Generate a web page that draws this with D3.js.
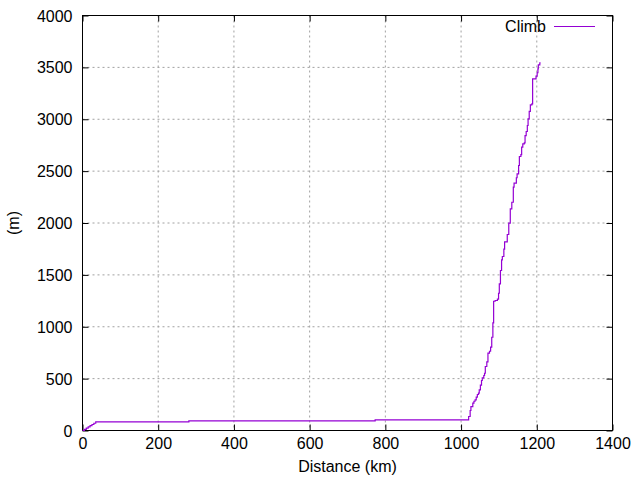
<!DOCTYPE html>
<html>
<head>
<meta charset="utf-8">
<script src="https://cdn.jsdelivr.net/npm/d3@7"></script>
<style>
  body { margin: 0; background: #fff; }
  text { font-family: "Liberation Sans", Arial, sans-serif; }
</style>
</head>
<body>
<script>
// distance along route (km) and cumulative climb (m)
const distance = [0, 5, 10, 15, 20, 25, 30, 35, 281, 773,
  1020, 1024, 1026, 1031, 1034, 1037, 1040, 1043, 1046, 1048,
  1051, 1054, 1056, 1060, 1062, 1064, 1068, 1071, 1075, 1078,
  1081, 1084, 1086, 1090, 1096, 1099, 1101, 1104, 1107, 1109,
  1113, 1115, 1122, 1126, 1130, 1134, 1138, 1140, 1146, 1148,
  1152, 1154, 1158, 1160, 1163, 1167, 1169, 1172, 1175, 1177,
  1180, 1183, 1187, 1189, 1198, 1201, 1203, 1204, 1208, 1210];
const climb = [0, 10, 22, 35, 47, 58, 70, 84, 93, 103,
  135, 193, 231, 263, 282, 296, 321, 347, 360, 392,
  437, 482, 508, 530, 552, 617, 662, 745, 764, 803,
  899, 1038, 1246, 1253, 1266, 1323, 1414, 1542, 1645, 1677,
  1748, 1819, 1889, 1998, 2137, 2200, 2345, 2384, 2436, 2474,
  2554, 2641, 2660, 2731, 2763, 2773, 2843, 2882, 2940, 3004,
  3075, 3139, 3149, 3390, 3415, 3448, 3486, 3525, 3544, 3544];

const xTicks = [0, 200, 400, 600, 800, 1000, 1200, 1400];
const yTicks = [0, 500, 1000, 1500, 2000, 2500, 3000, 3500, 4000];
const seriesName = "Climb";

const width = 640, height = 480;
const padLeft = 82.5, padRight = 612.5, padTop = 15.5, padBottom = 430.5;
const fontSize = 16;

const svg = d3.select("body").append("svg")
  .attr("width", width)
  .attr("height", height);

const x = d3.scaleLinear().domain([0, 1400]).range([padLeft, padRight]);
const y = d3.scaleLinear().domain([0, 4000]).range([padBottom, padTop]);

// grid
svg.append("g").selectAll("line")
  .data(xTicks.slice(1, -1))
  .enter().append("line")
  .attr("x1", d => x(d)).attr("x2", d => x(d))
  .attr("y1", padTop).attr("y2", padBottom)
  .attr("stroke", "#a0a0a0").attr("stroke-dasharray", "2,3");
svg.append("g").selectAll("line")
  .data(yTicks.slice(1, -1))
  .enter().append("line")
  .attr("x1", padLeft).attr("x2", padRight)
  .attr("y1", d => y(d)).attr("y2", d => y(d))
  .attr("stroke", "#a0a0a0").attr("stroke-dasharray", "2,3");

// axes, ticks pointing inward like gnuplot
const fmt = d3.format("d");
const xAxis = d3.axisBottom(x).tickValues(xTicks).tickFormat(fmt).tickSizeInner(-6).tickSizeOuter(0).tickPadding(8);
const yAxis = d3.axisLeft(y).tickValues(yTicks).tickFormat(fmt).tickSizeInner(-6).tickSizeOuter(0).tickPadding(10);
const xTop = d3.axisTop(x).tickValues(xTicks).tickSizeInner(-6).tickSizeOuter(0).tickFormat("");
const yRight = d3.axisRight(y).tickValues(yTicks).tickSizeInner(-6).tickSizeOuter(0).tickFormat("");

const gx = svg.append("g").attr("transform", "translate(0," + padBottom + ")").call(xAxis);
const gy = svg.append("g").attr("transform", "translate(" + padLeft + ",0)").call(yAxis);
svg.append("g").attr("transform", "translate(0," + padTop + ")").call(xTop);
svg.append("g").attr("transform", "translate(" + padRight + ",0)").call(yRight);

svg.selectAll(".domain").remove();
svg.selectAll(".tick line").attr("stroke", "#000");
svg.selectAll(".tick text").attr("font-size", fontSize).attr("fill", "#000")
  .style("font-family", "'Liberation Sans', Arial, sans-serif");
gx.selectAll(".tick text").attr("y", 18).attr("dy", 0);
gy.selectAll(".tick text").attr("dy", "0.35em");

// frame
svg.append("rect")
  .attr("x", padLeft).attr("y", padTop)
  .attr("width", padRight - padLeft).attr("height", padBottom - padTop)
  .attr("fill", "none").attr("stroke", "#000");

// series
const pts = distance.map((d, i) => [d, climb[i]]);
const line = d3.line()
  .x(d => x(d[0]))
  .y(d => y(d[1]))
  .curve(d3.curveStepAfter);

svg.append("path")
  .datum(pts)
  .attr("d", line)
  .attr("fill", "none")
  .attr("stroke", "#9400d3")
  .attr("stroke-width", 1.2);

// legend
svg.append("text")
  .attr("x", 546).attr("y", 32)
  .attr("text-anchor", "end")
  .attr("font-size", fontSize)
  .text(seriesName);
svg.append("line")
  .attr("x1", 554).attr("x2", 595)
  .attr("y1", 26.5).attr("y2", 26.5)
  .attr("stroke", "#9400d3").attr("stroke-width", 1);

// axis labels
svg.append("text")
  .attr("x", x(700)).attr("y", 472)
  .attr("text-anchor", "middle")
  .attr("font-size", fontSize)
  .text("Distance (km)");
svg.append("text")
  .attr("transform", "translate(19," + y(2000) + ") rotate(-90)")
  .attr("text-anchor", "middle")
  .attr("font-size", fontSize)
  .text("(m)");
</script>
</body>
</html>
